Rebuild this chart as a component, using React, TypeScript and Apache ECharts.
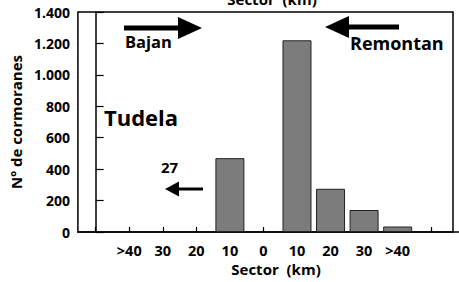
import React, { useEffect, useRef } from "react";
import * as echarts from "echarts";

// Sector positions (0..10 along the axis), labels and counts
const sectorLabels = ["", ">40", "30", "20", "10", "0", "10", "20", "30", ">40", ""];
const tickPositions = [0, 1, 2, 3, 4, 5, 6, 7, 8, 9, 10];
const labelPositions = [1, 2, 3, 4, 5, 6, 7, 8, 9];
const barPositions = [4, 6, 7, 8, 9];
const barValues = [470, 1220, 275, 140, 35];

const FONT = "'Open Sans', 'DejaVu Sans', sans-serif";

export default function App() {
  const ref = useRef<HTMLDivElement>(null);
  useEffect(() => {
    if (!ref.current) return;
    const chart = echarts.init(ref.current, undefined, { renderer: "svg" });
    const fmt = (v: number) => {
      const s = String(Math.round(v));
      return s.replace(/\B(?=(\d{3})+(?!\d))/g, ".");
    };
    chart.setOption({
      animation: false,
      backgroundColor: "#fff",
      grid: {
        left: 75,
        right: 6,
        top: 12,
        bottom: 50,
        show: true,
        borderColor: "#000",
        borderWidth: 1.5,
        backgroundColor: "transparent",
      },
      xAxis: {
        type: "value",
        min: -0.53,
        max: 10.65,
        splitLine: { show: false },
        axisLine: { show: true, lineStyle: { color: "#000", width: 1.5 } },
        axisTick: {
          show: true,
          inside: true,
          length: 5,
          customValues: tickPositions,
          lineStyle: { color: "#000", width: 1.2 },
        },
        axisLabel: {
          show: true,
          customValues: labelPositions,
          formatter: (v: number) => sectorLabels[Math.round(v)] ?? "",
          color: "#000",
          fontFamily: FONT,
          fontWeight: "bold",
          fontSize: 14.5,
          lineHeight: 14,
          margin: 11,
        },
      },
      yAxis: {
        type: "value",
        min: 0,
        max: 1400,
        interval: 200,
        name: "Nº de cormoranes",
        nameLocation: "middle",
        nameRotate: 90,
        nameGap: 46,
        nameTextStyle: {
          color: "#000",
          fontFamily: FONT,
          fontWeight: "bold",
          fontSize: 15,
        },
        splitLine: { show: false },
        axisLine: { show: true, lineStyle: { color: "#000", width: 1.5 } },
        axisTick: {
          show: true,
          inside: true,
          length: 8,
          lineStyle: { color: "#000", width: 1.2 },
        },
        axisLabel: {
          formatter: (v: number) => fmt(v),
          color: "#000",
          fontFamily: FONT,
          fontWeight: "bold",
          fontSize: 14,
          margin: 8,
          padding: [4, 0, 0, 0],
        },
      },
      series: [
        {
          type: "bar",
          barWidth: 29,
          data: barPositions.map((p, i) => [p, barValues[i]]),
          itemStyle: {
            color: "#7c7c7c",
            borderColor: "#222",
            borderWidth: 1,
          },
        },
      ],
      graphic: [
        {
          type: "text",
          x: 272,
          y: 6,
          style: {
            text: "Sector  (km)",
            textAlign: "center",
            textVerticalAlign: "bottom",
            font: `bold 15px ${FONT}`,
            fill: "#000",
          },
        },
        { type: "rect", shape: { x: 124, y: 25.5, width: 56, height: 5 }, style: { fill: "#000" } },
        { type: "polygon", shape: { points: [[178, 17], [202, 28], [178, 39]] }, style: { fill: "#000" } },
        {
          type: "text",
          x: 125,
          y: 41,
          style: { text: "Bajan", textVerticalAlign: "middle", font: `bold 16.5px ${FONT}`, fill: "#000" },
        },
        { type: "polygon", shape: { points: [[325, 27], [349, 16], [349, 38]] }, style: { fill: "#000" } },
        { type: "rect", shape: { x: 347, y: 24.5, width: 52, height: 5 }, style: { fill: "#000" } },
        {
          type: "text",
          x: 350,
          y: 43,
          style: { text: "Remontan", textVerticalAlign: "middle", font: `bold 18px ${FONT}`, fill: "#000" },
        },
        {
          type: "text",
          x: 104,
          y: 117,
          style: { text: "Tudela", textVerticalAlign: "middle", font: `bold 22px ${FONT}`, fill: "#000" },
        },
        {
          type: "text",
          x: 169.5,
          y: 167,
          style: { text: "27", textAlign: "center", textVerticalAlign: "middle", font: `bold 15px ${FONT}`, fill: "#000" },
        },
        { type: "polygon", shape: { points: [[165, 189], [179, 181.5], [179, 196.5]] }, style: { fill: "#000" } },
        { type: "rect", shape: { x: 178, y: 187.5, width: 25, height: 3 }, style: { fill: "#000" } },
        { type: "line", shape: { x1: 453, y1: 232, x2: 459, y2: 232 }, style: { stroke: "#000", lineWidth: 1.5 } },
        {
          type: "text",
          x: 276,
          y: 269,
          style: {
            text: "Sector  (km)",
            textAlign: "center",
            textVerticalAlign: "middle",
            font: `bold 15px ${FONT}`,
            lineHeight: 15,
            fill: "#000",
          },
        },
      ],
    });
    return () => chart.dispose();
  }, []);
  return <div ref={ref} style={{ width: 459, height: 282, position: "fixed", left: 0, top: 0 }} />;
}
